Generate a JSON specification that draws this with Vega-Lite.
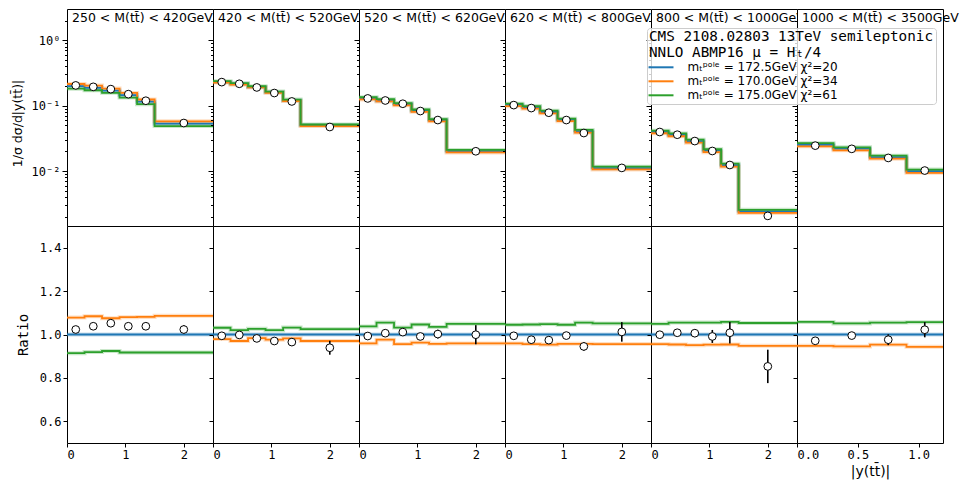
{
"$schema":"https://vega.github.io/schema/vega-lite/v6.json",
"padding":{"left":10,"top":8,"right":5,"bottom":2},
"datasets":{
"th":[
{"p":1,"m":"a","x":0,"v":0.199,"r":1},{"p":1,"m":"a","x":0.3,"v":0.187,"r":1},{"p":1,"m":"a","x":0.6,"v":0.170,"r":1},{"p":1,"m":"a","x":0.9,"v":0.145,"r":1},{"p":1,"m":"a","x":1.2,"v":0.115,"r":1},{"p":1,"m":"a","x":1.5,"v":0.0531,"r":1},{"p":1,"m":"a","x":2.5,"v":0.0531,"r":1},
{"p":1,"m":"b","x":0,"v":0.2145,"r":1.078},{"p":1,"m":"b","x":0.3,"v":0.2027,"r":1.084},{"p":1,"m":"b","x":0.6,"v":0.1828,"r":1.075},{"p":1,"m":"b","x":0.9,"v":0.1566,"r":1.080},{"p":1,"m":"b","x":1.2,"v":0.1243,"r":1.081},{"p":1,"m":"b","x":1.5,"v":0.0577,"r":1.086},{"p":1,"m":"b","x":2.5,"v":0.0577,"r":1.086},
{"p":1,"m":"c","x":0,"v":0.1819,"r":0.914},{"p":1,"m":"c","x":0.3,"v":0.1719,"r":0.919},{"p":1,"m":"c","x":0.6,"v":0.1571,"r":0.924},{"p":1,"m":"c","x":0.9,"v":0.1330,"r":0.917},{"p":1,"m":"c","x":1.2,"v":0.1055,"r":0.917},{"p":1,"m":"c","x":1.5,"v":0.0487,"r":0.917},{"p":1,"m":"c","x":2.5,"v":0.0487,"r":0.917},
{"p":2,"m":"a","x":0,"v":0.230,"r":1},{"p":2,"m":"a","x":0.3,"v":0.216,"r":1},{"p":2,"m":"a","x":0.6,"v":0.193,"r":1},{"p":2,"m":"a","x":0.9,"v":0.161,"r":1},{"p":2,"m":"a","x":1.2,"v":0.120,"r":1},{"p":2,"m":"a","x":1.5,"v":0.0503,"r":1},{"p":2,"m":"a","x":2.5,"v":0.0503,"r":1},
{"p":2,"m":"b","x":0,"v":0.2252,"r":0.979},{"p":2,"m":"b","x":0.3,"v":0.2095,"r":0.970},{"p":2,"m":"b","x":0.6,"v":0.1897,"r":0.983},{"p":2,"m":"b","x":0.9,"v":0.1571,"r":0.976},{"p":2,"m":"b","x":1.2,"v":0.1178,"r":0.982},{"p":2,"m":"b","x":1.5,"v":0.0488,"r":0.970},{"p":2,"m":"b","x":2.5,"v":0.0488,"r":0.970},
{"p":2,"m":"c","x":0,"v":0.2371,"r":1.031},{"p":2,"m":"c","x":0.3,"v":0.2203,"r":1.020},{"p":2,"m":"c","x":0.6,"v":0.1980,"r":1.026},{"p":2,"m":"c","x":0.9,"v":0.1642,"r":1.020},{"p":2,"m":"c","x":1.2,"v":0.1238,"r":1.032},{"p":2,"m":"c","x":1.5,"v":0.0516,"r":1.025},{"p":2,"m":"c","x":2.5,"v":0.0516,"r":1.025},
{"p":3,"m":"a","x":0,"v":0.130,"r":1},{"p":3,"m":"a","x":0.3,"v":0.119,"r":1},{"p":3,"m":"a","x":0.6,"v":0.106,"r":1},{"p":3,"m":"a","x":0.9,"v":0.0836,"r":1},{"p":3,"m":"a","x":1.2,"v":0.0602,"r":1},{"p":3,"m":"a","x":1.5,"v":0.0201,"r":1},{"p":3,"m":"a","x":2.5,"v":0.0201,"r":1},
{"p":3,"m":"b","x":0,"v":0.1247,"r":0.959},{"p":3,"m":"b","x":0.3,"v":0.1161,"r":0.976},{"p":3,"m":"b","x":0.6,"v":0.1013,"r":0.956},{"p":3,"m":"b","x":0.9,"v":0.0805,"r":0.963},{"p":3,"m":"b","x":1.2,"v":0.0576,"r":0.957},{"p":3,"m":"b","x":1.5,"v":0.0193,"r":0.959},{"p":3,"m":"b","x":2.5,"v":0.0193,"r":0.959},
{"p":3,"m":"c","x":0,"v":0.1348,"r":1.037},{"p":3,"m":"c","x":0.3,"v":0.1255,"r":1.055},{"p":3,"m":"c","x":0.6,"v":0.1094,"r":1.032},{"p":3,"m":"c","x":0.9,"v":0.0874,"r":1.046},{"p":3,"m":"c","x":1.2,"v":0.0623,"r":1.035},{"p":3,"m":"c","x":1.5,"v":0.0211,"r":1.049},{"p":3,"m":"c","x":2.5,"v":0.0211,"r":1.049},
{"p":4,"m":"a","x":0,"v":0.1026,"r":1},{"p":4,"m":"a","x":0.3,"v":0.0942,"r":1},{"p":4,"m":"a","x":0.6,"v":0.0801,"r":1},{"p":4,"m":"a","x":0.9,"v":0.0606,"r":1},{"p":4,"m":"a","x":1.2,"v":0.0404,"r":1},{"p":4,"m":"a","x":1.5,"v":0.0111,"r":1},{"p":4,"m":"a","x":2.5,"v":0.0111,"r":1},
{"p":4,"m":"b","x":0,"v":0.0984,"r":0.959},{"p":4,"m":"b","x":0.3,"v":0.0901,"r":0.956},{"p":4,"m":"b","x":0.6,"v":0.0763,"r":0.953},{"p":4,"m":"b","x":0.9,"v":0.0580,"r":0.957},{"p":4,"m":"b","x":1.2,"v":0.0387,"r":0.957},{"p":4,"m":"b","x":1.5,"v":0.0106,"r":0.956},{"p":4,"m":"b","x":2.5,"v":0.0106,"r":0.956},
{"p":4,"m":"c","x":0,"v":0.1072,"r":1.045},{"p":4,"m":"c","x":0.3,"v":0.0985,"r":1.046},{"p":4,"m":"c","x":0.6,"v":0.0839,"r":1.048},{"p":4,"m":"c","x":0.9,"v":0.0633,"r":1.045},{"p":4,"m":"c","x":1.2,"v":0.0426,"r":1.055},{"p":4,"m":"c","x":1.5,"v":0.0117,"r":1.051},{"p":4,"m":"c","x":2.5,"v":0.0117,"r":1.051},
{"p":5,"m":"a","x":0,"v":0.0396,"r":1},{"p":5,"m":"a","x":0.3,"v":0.0357,"r":1},{"p":5,"m":"a","x":0.6,"v":0.0286,"r":1},{"p":5,"m":"a","x":0.9,"v":0.0205,"r":1},{"p":5,"m":"a","x":1.2,"v":0.0123,"r":1},{"p":5,"m":"a","x":1.5,"v":0.00243,"r":1},{"p":5,"m":"a","x":2.5,"v":0.00243,"r":1},
{"p":5,"m":"b","x":0,"v":0.0379,"r":0.956},{"p":5,"m":"b","x":0.3,"v":0.0341,"r":0.954},{"p":5,"m":"b","x":0.6,"v":0.0272,"r":0.951},{"p":5,"m":"b","x":0.9,"v":0.0195,"r":0.953},{"p":5,"m":"b","x":1.2,"v":0.0117,"r":0.954},{"p":5,"m":"b","x":1.5,"v":0.00230,"r":0.948},{"p":5,"m":"b","x":2.5,"v":0.00230,"r":0.948},
{"p":5,"m":"c","x":0,"v":0.0415,"r":1.049},{"p":5,"m":"c","x":0.3,"v":0.0377,"r":1.055},{"p":5,"m":"c","x":0.6,"v":0.0302,"r":1.055},{"p":5,"m":"c","x":0.9,"v":0.0216,"r":1.055},{"p":5,"m":"c","x":1.2,"v":0.0130,"r":1.058},{"p":5,"m":"c","x":1.5,"v":0.00256,"r":1.053},{"p":5,"m":"c","x":2.5,"v":0.00256,"r":1.053},
{"p":6,"m":"a","x":0,"v":0.0252,"r":1},{"p":6,"m":"a","x":0.3,"v":0.0220,"r":1},{"p":6,"m":"a","x":0.6,"v":0.0163,"r":1},{"p":6,"m":"a","x":0.9,"v":0.00998,"r":1},{"p":6,"m":"a","x":1.2,"v":0.00998,"r":1},
{"p":6,"m":"b","x":0,"v":0.0239,"r":0.948},{"p":6,"m":"b","x":0.3,"v":0.0208,"r":0.945},{"p":6,"m":"b","x":0.6,"v":0.0155,"r":0.953},{"p":6,"m":"b","x":0.9,"v":0.00941,"r":0.943},{"p":6,"m":"b","x":1.2,"v":0.00941,"r":0.943},
{"p":6,"m":"c","x":0,"v":0.0267,"r":1.058},{"p":6,"m":"c","x":0.3,"v":0.0231,"r":1.051},{"p":6,"m":"c","x":0.6,"v":0.0172,"r":1.055},{"p":6,"m":"c","x":0.9,"v":0.01055,"r":1.057},{"p":6,"m":"c","x":1.2,"v":0.01055,"r":1.057}
],
"ms":[
{"p":1,"x":0.15,"v":0.204,"r":1.023,"lo":1.008,"hi":1.038},{"p":1,"x":0.45,"v":0.194,"r":1.038,"lo":1.023,"hi":1.053},{"p":1,"x":0.75,"v":0.179,"r":1.052,"lo":1.037,"hi":1.067},{"p":1,"x":1.05,"v":0.150,"r":1.038,"lo":1.023,"hi":1.053},{"p":1,"x":1.35,"v":0.119,"r":1.038,"lo":1.023,"hi":1.053},{"p":1,"x":2.0,"v":0.0543,"r":1.023,"lo":1.003,"hi":1.043},
{"p":2,"x":0.15,"v":0.229,"r":0.994,"lo":0.984,"hi":1.004},{"p":2,"x":0.45,"v":0.216,"r":0.998,"lo":0.988,"hi":1.008},{"p":2,"x":0.75,"v":0.190,"r":0.982,"lo":0.972,"hi":0.992},{"p":2,"x":1.05,"v":0.156,"r":0.970,"lo":0.958,"hi":0.982},{"p":2,"x":1.35,"v":0.116,"r":0.965,"lo":0.947,"hi":0.983},{"p":2,"x":2.0,"v":0.0472,"r":0.939,"lo":0.907,"hi":0.971},
{"p":3,"x":0.15,"v":0.129,"r":0.993,"lo":0.983,"hi":1.003},{"p":3,"x":0.45,"v":0.120,"r":1.006,"lo":0.996,"hi":1.016},{"p":3,"x":0.75,"v":0.107,"r":1.011,"lo":0.999,"hi":1.023},{"p":3,"x":1.05,"v":0.0828,"r":0.991,"lo":0.979,"hi":1.003},{"p":3,"x":1.35,"v":0.0603,"r":1.002,"lo":0.982,"hi":1.022},{"p":3,"x":2.0,"v":0.0201,"r":0.999,"lo":0.955,"hi":1.043},
{"p":4,"x":0.15,"v":0.102,"r":0.994,"lo":0.984,"hi":1.004},{"p":4,"x":0.45,"v":0.0919,"r":0.976,"lo":0.966,"hi":0.986},{"p":4,"x":0.75,"v":0.078,"r":0.974,"lo":0.964,"hi":0.984},{"p":4,"x":1.05,"v":0.0603,"r":0.995,"lo":0.983,"hi":1.007},{"p":4,"x":1.35,"v":0.0382,"r":0.945,"lo":0.925,"hi":0.965},{"p":4,"x":2.0,"v":0.0112,"r":1.012,"lo":0.967,"hi":1.057},
{"p":5,"x":0.15,"v":0.0396,"r":0.999,"lo":0.989,"hi":1.009},{"p":5,"x":0.45,"v":0.0360,"r":1.008,"lo":0.996,"hi":1.020},{"p":5,"x":0.75,"v":0.0288,"r":1.006,"lo":0.988,"hi":1.024},{"p":5,"x":1.05,"v":0.0203,"r":0.991,"lo":0.961,"hi":1.021},{"p":5,"x":1.35,"v":0.0124,"r":1.008,"lo":0.958,"hi":1.058},{"p":5,"x":2.0,"v":0.00207,"r":0.853,"lo":0.776,"hi":0.930},
{"p":6,"x":0.15,"v":0.0245,"r":0.971,"lo":0.961,"hi":0.981},{"p":6,"x":0.45,"v":0.0219,"r":0.995,"lo":0.983,"hi":1.007},{"p":6,"x":0.75,"v":0.0159,"r":0.976,"lo":0.951,"hi":1.001},{"p":6,"x":1.05,"v":0.0102,"r":1.022,"lo":0.987,"hi":1.057}
]
},
"columns":6,
"spacing":0,
"bounds":"flush",
"resolve":{"scale":{"color":"shared"},"legend":{"color":"shared"}},
"concat":[
{"width":146,"height":217,"title":"250 < M(tt̄) < 420GeV",
 "encoding":{"x":{"field":"x","type":"quantitative","scale":{"domain":[0,2.5],"nice":false,"zero":false},"axis":null},
  "y":{"field":"v","type":"quantitative","scale":{"type":"log","domain":[0.00145,3],"nice":false},"axis":{"values":[0.002,0.003,0.004,0.005,0.006,0.007,0.008,0.009,0.01,0.02,0.03,0.04,0.05,0.06,0.07,0.08,0.09,0.1,0.2,0.3,0.4,0.5,0.6,0.7,0.8,0.9,1,2],"labelExpr":"datum.value == 1 ? '10⁰' : datum.value == 0.1 ? '10⁻¹' : datum.value == 0.01 ? '10⁻²' : ''","tickSize":{"condition":{"test":"datum.value == 1 || datum.value == 0.1 || datum.value == 0.01","value":5},"value":2.5},"title":"1/σ  dσ/d|y(tt̄)|","titleFont":"DejaVu Sans","titleFontSize":12.5,"titleX":-43,"titleY":114}}},
 "layer":[
  {"data":{"name":"th"},"transform":[{"filter":"datum.p == 1"}],"mark":{"type":"line","interpolate":"step-after","strokeWidth":4,"opacity":0.25},"encoding":{"color":{"field":"m","type":"nominal","scale":{"domain":["a","b","c"],"range":["#1f77b4","#ff7f0e","#2ca02c"]},"legend":{"orient":"none","legendX":580,"legendY":19,"title":["CMS 2108.02803 13TeV semileptonic","NNLO ABMP16 μ = Hₜ/4"],"labelExpr":"datum.label == 'a' ? 'mₜᵖᵒˡᵉ = 172.5GeV χ²=20' : datum.label == 'b' ? 'mₜᵖᵒˡᵉ = 170.0GeV χ²=34' : 'mₜᵖᵒˡᵉ = 175.0GeV χ²=61'"}}}},
  {"data":{"name":"th"},"transform":[{"filter":"datum.p == 1"}],"mark":{"type":"line","interpolate":"step-after","strokeWidth":1.8},"encoding":{"color":{"field":"m","type":"nominal","scale":{"domain":["a","b","c"],"range":["#1f77b4","#ff7f0e","#2ca02c"]},"legend":{"orient":"none","legendX":580,"legendY":19,"title":["CMS 2108.02803 13TeV semileptonic","NNLO ABMP16 μ = Hₜ/4"],"labelExpr":"datum.label == 'a' ? 'mₜᵖᵒˡᵉ = 172.5GeV χ²=20' : datum.label == 'b' ? 'mₜᵖᵒˡᵉ = 170.0GeV χ²=34' : 'mₜᵖᵒˡᵉ = 175.0GeV χ²=61'"}}}},
  {"data":{"name":"ms"},"transform":[{"filter":"datum.p == 1"}],"mark":{"type":"point","shape":"circle","filled":true,"fill":"white","stroke":"black","strokeWidth":1,"size":60,"opacity":1}}
 ]},
{"width":146,"height":217,"title":"420 < M(tt̄) < 520GeV",
 "encoding":{"x":{"field":"x","type":"quantitative","scale":{"domain":[0,2.5],"nice":false,"zero":false},"axis":null},
  "y":{"field":"v","type":"quantitative","scale":{"type":"log","domain":[0.00145,3],"nice":false},"axis":{"values":[0.002,0.003,0.004,0.005,0.006,0.007,0.008,0.009,0.01,0.02,0.03,0.04,0.05,0.06,0.07,0.08,0.09,0.1,0.2,0.3,0.4,0.5,0.6,0.7,0.8,0.9,1,2],"labels":false,"tickSize":{"condition":{"test":"datum.value == 1 || datum.value == 0.1 || datum.value == 0.01","value":5},"value":2.5},"title":null}}},
 "layer":[
  {"data":{"name":"th"},"transform":[{"filter":"datum.p == 2"}],"mark":{"type":"line","interpolate":"step-after","strokeWidth":4,"opacity":0.25},"encoding":{"color":{"field":"m","type":"nominal","scale":{"domain":["a","b","c"],"range":["#1f77b4","#ff7f0e","#2ca02c"]}}}},
  {"data":{"name":"th"},"transform":[{"filter":"datum.p == 2"}],"mark":{"type":"line","interpolate":"step-after","strokeWidth":1.8},"encoding":{"color":{"field":"m","type":"nominal","scale":{"domain":["a","b","c"],"range":["#1f77b4","#ff7f0e","#2ca02c"]}}}},
  {"data":{"name":"ms"},"transform":[{"filter":"datum.p == 2"}],"mark":{"type":"point","shape":"circle","filled":true,"fill":"white","stroke":"black","strokeWidth":1,"size":60,"opacity":1}}
 ]},
{"width":146,"height":217,"title":"520 < M(tt̄) < 620GeV",
 "encoding":{"x":{"field":"x","type":"quantitative","scale":{"domain":[0,2.5],"nice":false,"zero":false},"axis":null},
  "y":{"field":"v","type":"quantitative","scale":{"type":"log","domain":[0.00145,3],"nice":false},"axis":{"values":[0.002,0.003,0.004,0.005,0.006,0.007,0.008,0.009,0.01,0.02,0.03,0.04,0.05,0.06,0.07,0.08,0.09,0.1,0.2,0.3,0.4,0.5,0.6,0.7,0.8,0.9,1,2],"labels":false,"tickSize":{"condition":{"test":"datum.value == 1 || datum.value == 0.1 || datum.value == 0.01","value":5},"value":2.5},"title":null}}},
 "layer":[
  {"data":{"name":"th"},"transform":[{"filter":"datum.p == 3"}],"mark":{"type":"line","interpolate":"step-after","strokeWidth":4,"opacity":0.25},"encoding":{"color":{"field":"m","type":"nominal","scale":{"domain":["a","b","c"],"range":["#1f77b4","#ff7f0e","#2ca02c"]}}}},
  {"data":{"name":"th"},"transform":[{"filter":"datum.p == 3"}],"mark":{"type":"line","interpolate":"step-after","strokeWidth":1.8},"encoding":{"color":{"field":"m","type":"nominal","scale":{"domain":["a","b","c"],"range":["#1f77b4","#ff7f0e","#2ca02c"]}}}},
  {"data":{"name":"ms"},"transform":[{"filter":"datum.p == 3"}],"mark":{"type":"point","shape":"circle","filled":true,"fill":"white","stroke":"black","strokeWidth":1,"size":60,"opacity":1}}
 ]},
{"width":146,"height":217,"title":"620 < M(tt̄) < 800GeV",
 "encoding":{"x":{"field":"x","type":"quantitative","scale":{"domain":[0,2.5],"nice":false,"zero":false},"axis":null},
  "y":{"field":"v","type":"quantitative","scale":{"type":"log","domain":[0.00145,3],"nice":false},"axis":{"values":[0.002,0.003,0.004,0.005,0.006,0.007,0.008,0.009,0.01,0.02,0.03,0.04,0.05,0.06,0.07,0.08,0.09,0.1,0.2,0.3,0.4,0.5,0.6,0.7,0.8,0.9,1,2],"labels":false,"tickSize":{"condition":{"test":"datum.value == 1 || datum.value == 0.1 || datum.value == 0.01","value":5},"value":2.5},"title":null}}},
 "layer":[
  {"data":{"name":"th"},"transform":[{"filter":"datum.p == 4"}],"mark":{"type":"line","interpolate":"step-after","strokeWidth":4,"opacity":0.25},"encoding":{"color":{"field":"m","type":"nominal","scale":{"domain":["a","b","c"],"range":["#1f77b4","#ff7f0e","#2ca02c"]}}}},
  {"data":{"name":"th"},"transform":[{"filter":"datum.p == 4"}],"mark":{"type":"line","interpolate":"step-after","strokeWidth":1.8},"encoding":{"color":{"field":"m","type":"nominal","scale":{"domain":["a","b","c"],"range":["#1f77b4","#ff7f0e","#2ca02c"]}}}},
  {"data":{"name":"ms"},"transform":[{"filter":"datum.p == 4"}],"mark":{"type":"point","shape":"circle","filled":true,"fill":"white","stroke":"black","strokeWidth":1,"size":60,"opacity":1}}
 ]},
{"width":146,"height":217,"title":"800 < M(tt̄) < 1000GeV",
 "encoding":{"x":{"field":"x","type":"quantitative","scale":{"domain":[0,2.5],"nice":false,"zero":false},"axis":null},
  "y":{"field":"v","type":"quantitative","scale":{"type":"log","domain":[0.00145,3],"nice":false},"axis":{"values":[0.002,0.003,0.004,0.005,0.006,0.007,0.008,0.009,0.01,0.02,0.03,0.04,0.05,0.06,0.07,0.08,0.09,0.1,0.2,0.3,0.4,0.5,0.6,0.7,0.8,0.9,1,2],"labels":false,"tickSize":{"condition":{"test":"datum.value == 1 || datum.value == 0.1 || datum.value == 0.01","value":5},"value":2.5},"title":null}}},
 "layer":[
  {"data":{"name":"th"},"transform":[{"filter":"datum.p == 5"}],"mark":{"type":"line","interpolate":"step-after","strokeWidth":4,"opacity":0.25},"encoding":{"color":{"field":"m","type":"nominal","scale":{"domain":["a","b","c"],"range":["#1f77b4","#ff7f0e","#2ca02c"]}}}},
  {"data":{"name":"th"},"transform":[{"filter":"datum.p == 5"}],"mark":{"type":"line","interpolate":"step-after","strokeWidth":1.8},"encoding":{"color":{"field":"m","type":"nominal","scale":{"domain":["a","b","c"],"range":["#1f77b4","#ff7f0e","#2ca02c"]}}}},
  {"data":{"name":"ms"},"transform":[{"filter":"datum.p == 5"}],"mark":{"type":"point","shape":"circle","filled":true,"fill":"white","stroke":"black","strokeWidth":1,"size":60,"opacity":1}}
 ]},
{"width":146,"height":217,"title":"1000 < M(tt̄) < 3500GeV",
 "encoding":{"x":{"field":"x","type":"quantitative","scale":{"domain":[0,1.2],"nice":false,"zero":false},"axis":null},
  "y":{"field":"v","type":"quantitative","scale":{"type":"log","domain":[0.00145,3],"nice":false},"axis":{"values":[0.002,0.003,0.004,0.005,0.006,0.007,0.008,0.009,0.01,0.02,0.03,0.04,0.05,0.06,0.07,0.08,0.09,0.1,0.2,0.3,0.4,0.5,0.6,0.7,0.8,0.9,1,2],"labels":false,"tickSize":{"condition":{"test":"datum.value == 1 || datum.value == 0.1 || datum.value == 0.01","value":5},"value":2.5},"title":null}}},
 "layer":[
  {"data":{"name":"th"},"transform":[{"filter":"datum.p == 6"}],"mark":{"type":"line","interpolate":"step-after","strokeWidth":4,"opacity":0.25},"encoding":{"color":{"field":"m","type":"nominal","scale":{"domain":["a","b","c"],"range":["#1f77b4","#ff7f0e","#2ca02c"]}}}},
  {"data":{"name":"th"},"transform":[{"filter":"datum.p == 6"}],"mark":{"type":"line","interpolate":"step-after","strokeWidth":1.8},"encoding":{"color":{"field":"m","type":"nominal","scale":{"domain":["a","b","c"],"range":["#1f77b4","#ff7f0e","#2ca02c"]}}}},
  {"data":{"name":"ms"},"transform":[{"filter":"datum.p == 6"}],"mark":{"type":"point","shape":"circle","filled":true,"fill":"white","stroke":"black","strokeWidth":1,"size":60,"opacity":1}}
 ]},
{"width":146,"height":217,
 "encoding":{"x":{"field":"x","type":"quantitative","scale":{"domain":[0,2.5],"nice":false,"zero":false},"axis":{"values":[0,1,2],"format":"d","title":null,"tickSize":4}},
  "y":{"field":"r","type":"quantitative","scale":{"domain":[0.5,1.5],"nice":false,"zero":false},"axis":{"values":[0.6,0.8,1.0,1.2,1.4],"format":".1f","title":"Ratio","titleFontSize":14,"titleX":-36.5,"tickSize":4}}},
 "layer":[
  {"data":{"name":"th"},"transform":[{"filter":"datum.p == 1"}],"mark":{"type":"line","interpolate":"step-after","strokeWidth":4,"opacity":0.25},"encoding":{"color":{"field":"m","type":"nominal","scale":{"domain":["a","b","c"],"range":["#1f77b4","#ff7f0e","#2ca02c"]}}}},
  {"data":{"name":"th"},"transform":[{"filter":"datum.p == 1"}],"mark":{"type":"line","interpolate":"step-after","strokeWidth":1.8},"encoding":{"color":{"field":"m","type":"nominal","scale":{"domain":["a","b","c"],"range":["#1f77b4","#ff7f0e","#2ca02c"]}}}},
  {"data":{"name":"ms"},"transform":[{"filter":"datum.p == 1"}],"mark":{"type":"rule","color":"black","strokeWidth":1.6},"encoding":{"y":{"field":"lo","type":"quantitative","scale":{"domain":[0.5,1.5],"nice":false,"zero":false},"axis":{"values":[0.6,0.8,1.0,1.2,1.4],"format":".1f","title":"Ratio","titleFontSize":14,"titleX":-36.5,"tickSize":4}},"y2":{"field":"hi"}}},
  {"data":{"name":"ms"},"transform":[{"filter":"datum.p == 1"}],"mark":{"type":"point","shape":"circle","filled":true,"fill":"white","stroke":"black","strokeWidth":1,"size":60,"opacity":1}}
 ]},
{"width":146,"height":217,
 "encoding":{"x":{"field":"x","type":"quantitative","scale":{"domain":[0,2.5],"nice":false,"zero":false},"axis":{"values":[0,1,2],"format":"d","title":null,"tickSize":4}},
  "y":{"field":"r","type":"quantitative","scale":{"domain":[0.5,1.5],"nice":false,"zero":false},"axis":{"values":[0.6,0.8,1.0,1.2,1.4],"labels":false,"title":null,"tickSize":4}}},
 "layer":[
  {"data":{"name":"th"},"transform":[{"filter":"datum.p == 2"}],"mark":{"type":"line","interpolate":"step-after","strokeWidth":4,"opacity":0.25},"encoding":{"color":{"field":"m","type":"nominal","scale":{"domain":["a","b","c"],"range":["#1f77b4","#ff7f0e","#2ca02c"]}}}},
  {"data":{"name":"th"},"transform":[{"filter":"datum.p == 2"}],"mark":{"type":"line","interpolate":"step-after","strokeWidth":1.8},"encoding":{"color":{"field":"m","type":"nominal","scale":{"domain":["a","b","c"],"range":["#1f77b4","#ff7f0e","#2ca02c"]}}}},
  {"data":{"name":"ms"},"transform":[{"filter":"datum.p == 2"}],"mark":{"type":"rule","color":"black","strokeWidth":1.6},"encoding":{"y":{"field":"lo","type":"quantitative","scale":{"domain":[0.5,1.5],"nice":false,"zero":false},"axis":{"values":[0.6,0.8,1.0,1.2,1.4],"labels":false,"title":null,"tickSize":4}},"y2":{"field":"hi"}}},
  {"data":{"name":"ms"},"transform":[{"filter":"datum.p == 2"}],"mark":{"type":"point","shape":"circle","filled":true,"fill":"white","stroke":"black","strokeWidth":1,"size":60,"opacity":1}}
 ]},
{"width":146,"height":217,
 "encoding":{"x":{"field":"x","type":"quantitative","scale":{"domain":[0,2.5],"nice":false,"zero":false},"axis":{"values":[0,1,2],"format":"d","title":null,"tickSize":4}},
  "y":{"field":"r","type":"quantitative","scale":{"domain":[0.5,1.5],"nice":false,"zero":false},"axis":{"values":[0.6,0.8,1.0,1.2,1.4],"labels":false,"title":null,"tickSize":4}}},
 "layer":[
  {"data":{"name":"th"},"transform":[{"filter":"datum.p == 3"}],"mark":{"type":"line","interpolate":"step-after","strokeWidth":4,"opacity":0.25},"encoding":{"color":{"field":"m","type":"nominal","scale":{"domain":["a","b","c"],"range":["#1f77b4","#ff7f0e","#2ca02c"]}}}},
  {"data":{"name":"th"},"transform":[{"filter":"datum.p == 3"}],"mark":{"type":"line","interpolate":"step-after","strokeWidth":1.8},"encoding":{"color":{"field":"m","type":"nominal","scale":{"domain":["a","b","c"],"range":["#1f77b4","#ff7f0e","#2ca02c"]}}}},
  {"data":{"name":"ms"},"transform":[{"filter":"datum.p == 3"}],"mark":{"type":"rule","color":"black","strokeWidth":1.6},"encoding":{"y":{"field":"lo","type":"quantitative","scale":{"domain":[0.5,1.5],"nice":false,"zero":false},"axis":{"values":[0.6,0.8,1.0,1.2,1.4],"labels":false,"title":null,"tickSize":4}},"y2":{"field":"hi"}}},
  {"data":{"name":"ms"},"transform":[{"filter":"datum.p == 3"}],"mark":{"type":"point","shape":"circle","filled":true,"fill":"white","stroke":"black","strokeWidth":1,"size":60,"opacity":1}}
 ]},
{"width":146,"height":217,
 "encoding":{"x":{"field":"x","type":"quantitative","scale":{"domain":[0,2.5],"nice":false,"zero":false},"axis":{"values":[0,1,2],"format":"d","title":null,"tickSize":4}},
  "y":{"field":"r","type":"quantitative","scale":{"domain":[0.5,1.5],"nice":false,"zero":false},"axis":{"values":[0.6,0.8,1.0,1.2,1.4],"labels":false,"title":null,"tickSize":4}}},
 "layer":[
  {"data":{"name":"th"},"transform":[{"filter":"datum.p == 4"}],"mark":{"type":"line","interpolate":"step-after","strokeWidth":4,"opacity":0.25},"encoding":{"color":{"field":"m","type":"nominal","scale":{"domain":["a","b","c"],"range":["#1f77b4","#ff7f0e","#2ca02c"]}}}},
  {"data":{"name":"th"},"transform":[{"filter":"datum.p == 4"}],"mark":{"type":"line","interpolate":"step-after","strokeWidth":1.8},"encoding":{"color":{"field":"m","type":"nominal","scale":{"domain":["a","b","c"],"range":["#1f77b4","#ff7f0e","#2ca02c"]}}}},
  {"data":{"name":"ms"},"transform":[{"filter":"datum.p == 4"}],"mark":{"type":"rule","color":"black","strokeWidth":1.6},"encoding":{"y":{"field":"lo","type":"quantitative","scale":{"domain":[0.5,1.5],"nice":false,"zero":false},"axis":{"values":[0.6,0.8,1.0,1.2,1.4],"labels":false,"title":null,"tickSize":4}},"y2":{"field":"hi"}}},
  {"data":{"name":"ms"},"transform":[{"filter":"datum.p == 4"}],"mark":{"type":"point","shape":"circle","filled":true,"fill":"white","stroke":"black","strokeWidth":1,"size":60,"opacity":1}}
 ]},
{"width":146,"height":217,
 "encoding":{"x":{"field":"x","type":"quantitative","scale":{"domain":[0,2.5],"nice":false,"zero":false},"axis":{"values":[0,1,2],"format":"d","title":null,"tickSize":4}},
  "y":{"field":"r","type":"quantitative","scale":{"domain":[0.5,1.5],"nice":false,"zero":false},"axis":{"values":[0.6,0.8,1.0,1.2,1.4],"labels":false,"title":null,"tickSize":4}}},
 "layer":[
  {"data":{"name":"th"},"transform":[{"filter":"datum.p == 5"}],"mark":{"type":"line","interpolate":"step-after","strokeWidth":4,"opacity":0.25},"encoding":{"color":{"field":"m","type":"nominal","scale":{"domain":["a","b","c"],"range":["#1f77b4","#ff7f0e","#2ca02c"]}}}},
  {"data":{"name":"th"},"transform":[{"filter":"datum.p == 5"}],"mark":{"type":"line","interpolate":"step-after","strokeWidth":1.8},"encoding":{"color":{"field":"m","type":"nominal","scale":{"domain":["a","b","c"],"range":["#1f77b4","#ff7f0e","#2ca02c"]}}}},
  {"data":{"name":"ms"},"transform":[{"filter":"datum.p == 5"}],"mark":{"type":"rule","color":"black","strokeWidth":1.6},"encoding":{"y":{"field":"lo","type":"quantitative","scale":{"domain":[0.5,1.5],"nice":false,"zero":false},"axis":{"values":[0.6,0.8,1.0,1.2,1.4],"labels":false,"title":null,"tickSize":4}},"y2":{"field":"hi"}}},
  {"data":{"name":"ms"},"transform":[{"filter":"datum.p == 5"}],"mark":{"type":"point","shape":"circle","filled":true,"fill":"white","stroke":"black","strokeWidth":1,"size":60,"opacity":1}}
 ]},
{"width":146,"height":217,
 "encoding":{"x":{"field":"x","type":"quantitative","scale":{"domain":[0,1.2],"nice":false,"zero":false},"axis":{"values":[0,0.5,1.0],"format":".1f","title":"|y(tt̄)|","titleFont":"DejaVu Sans","titleFontSize":14,"tickSize":4}},
  "y":{"field":"r","type":"quantitative","scale":{"domain":[0.5,1.5],"nice":false,"zero":false},"axis":{"values":[0.6,0.8,1.0,1.2,1.4],"labels":false,"title":null,"tickSize":4}}},
 "layer":[
  {"data":{"name":"th"},"transform":[{"filter":"datum.p == 6"}],"mark":{"type":"line","interpolate":"step-after","strokeWidth":4,"opacity":0.25},"encoding":{"color":{"field":"m","type":"nominal","scale":{"domain":["a","b","c"],"range":["#1f77b4","#ff7f0e","#2ca02c"]}}}},
  {"data":{"name":"th"},"transform":[{"filter":"datum.p == 6"}],"mark":{"type":"line","interpolate":"step-after","strokeWidth":1.8},"encoding":{"color":{"field":"m","type":"nominal","scale":{"domain":["a","b","c"],"range":["#1f77b4","#ff7f0e","#2ca02c"]}}}},
  {"data":{"name":"ms"},"transform":[{"filter":"datum.p == 6"}],"mark":{"type":"rule","color":"black","strokeWidth":1.6},"encoding":{"y":{"field":"lo","type":"quantitative","scale":{"domain":[0.5,1.5],"nice":false,"zero":false},"axis":{"values":[0.6,0.8,1.0,1.2,1.4],"labels":false,"title":null,"tickSize":4}},"y2":{"field":"hi"}}},
  {"data":{"name":"ms"},"transform":[{"filter":"datum.p == 6"}],"mark":{"type":"point","shape":"circle","filled":true,"fill":"white","stroke":"black","strokeWidth":1,"size":60,"opacity":1}}
 ]}
],
"config":{
 "view":{"stroke":"black","strokeWidth":1,"fill":"white"},
 "axis":{"labelFont":"DejaVu Sans Mono","labelFontSize":12,"labelColor":"black","tickColor":"black","labelPadding":2,"domain":false,"grid":false,"titleFont":"DejaVu Sans Mono","titleFontSize":13.5,"titleFontWeight":"normal","titleColor":"black","titlePadding":4},
 "title":{"font":"DejaVu Sans","fontSize":12.5,"fontWeight":"normal","color":"black","anchor":"start","frame":"group","offset":-15.5,"dx":5},
 "legend":{"titleFont":"DejaVu Sans Mono","titleFontSize":14.3,"titleFontWeight":"normal","titleColor":"black","titleLineHeight":15.5,"titlePadding":0,"titleLimit":600,"labelFont":"DejaVu Sans","labelFontSize":12,"labelLimit":400,"labelColor":"black","symbolType":"M-2,0H2","symbolStrokeWidth":2,"symbolSize":156,"symbolOffset":4.5,"symbolOpacity":1,"labelOffset":19,"rowPadding":-0.5,"padding":2,"strokeColor":"#cccccc","fillColor":"rgba(255,255,255,0.8)","cornerRadius":3}
}
}
